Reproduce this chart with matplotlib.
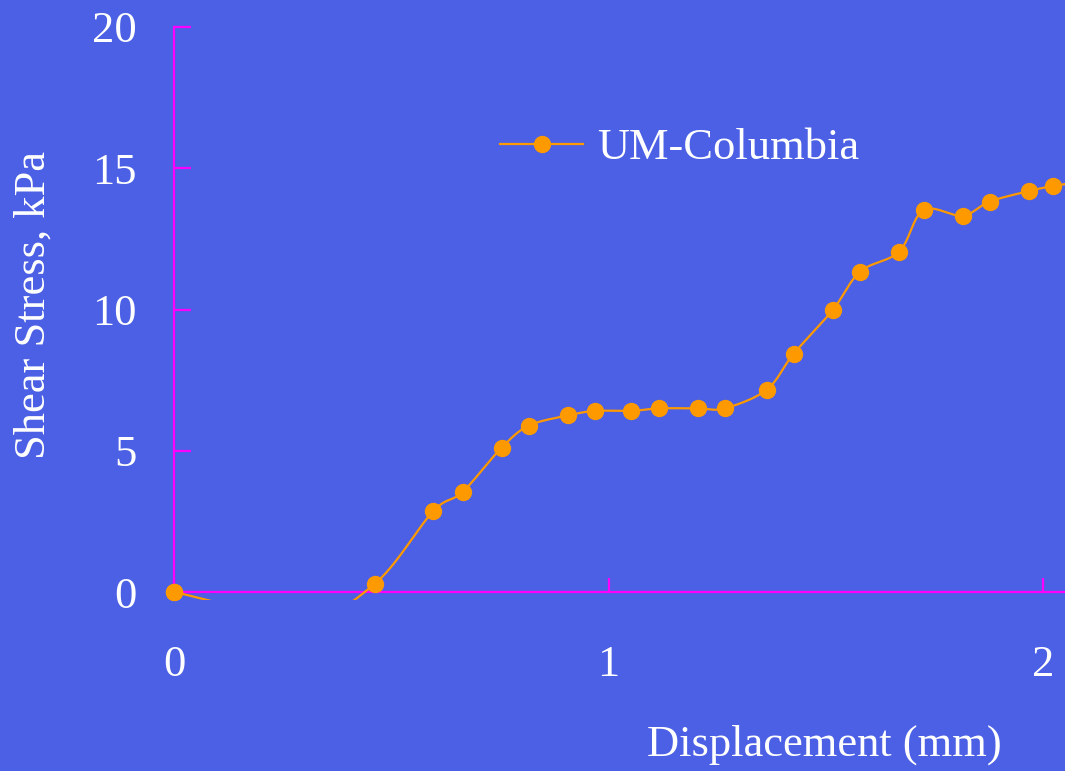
import numpy as np
import matplotlib
matplotlib.use("Agg")
import matplotlib.pyplot as plt
from matplotlib.lines import Line2D

# ---- data (one point below the visible range is estimated) ----
displacement = [0.0, 0.30, 0.4626, 0.596, 0.664, 0.754, 0.817, 0.907, 0.969,
                1.052, 1.116, 1.205, 1.267, 1.364, 1.426, 1.516, 1.579,
                1.669, 1.725, 1.815, 1.877, 1.967, 2.022, 2.08]
shear_stress = [0.0, -0.9, 0.30, 2.85, 3.54, 5.11, 5.89, 6.25, 6.41,
                6.41, 6.50, 6.50, 6.50, 7.16, 8.43, 9.98, 11.34,
                12.05, 13.52, 13.32, 13.82, 14.19, 14.37, 14.5]
series_name = "UM-Columbia"
x_ticks = [0, 1, 2]
y_ticks = [0, 5, 10, 15, 20]
x_label = "Displacement (mm)"
y_label = "Shear Stress, kPa"

BG = "#4B60E4"
AXC = "#FF00FF"
ORANGE = "#FF9900"
FONT = "Liberation Serif"
FS = 32
MS = 12.5

def catmull_rom(xs, ys, sx=434.5, sy=28.25, n=30):
    P = np.column_stack([np.asarray(xs) * sx, np.asarray(ys) * sy])
    out = [P[0]]
    for i in range(len(P) - 1):
        p0 = P[i - 1] if i > 0 else P[i]
        p1, p2 = P[i], P[i + 1]
        p3 = P[i + 2] if i + 2 < len(P) else P[i + 1]
        m1 = (p2 - p0) / 2.0
        m2 = (p3 - p1) / 2.0
        c1 = p1 + m1 / 3.0
        c2 = p2 - m2 / 3.0
        t = np.linspace(0, 1, n)[1:, None]
        seg = ((1 - t) ** 3) * p1 + 3 * ((1 - t) ** 2) * t * c1 + 3 * (1 - t) * t ** 2 * c2 + t ** 3 * p2
        out.extend(seg)
    out = np.array(out)
    return out[:, 0] / sx, out[:, 1] / sy

W, H = 1065, 771
fig = plt.figure(figsize=(W / 100, H / 100), dpi=100, facecolor=BG)

xlim = (-0.05, 2.05)
ylim = (-0.3, 20.5)
px_per_x = 434.5
px_per_y = 28.25
left_px = 174 + xlim[0] * px_per_x
right_px = 174 + xlim[1] * px_per_x
bottom_px = 592 - ylim[0] * px_per_y
top_px = 592 - ylim[1] * px_per_y
ax = fig.add_axes([left_px / W, 1 - bottom_px / H,
                   (right_px - left_px) / W, (bottom_px - top_px) / H])
ax.set_facecolor(BG)
ax.set_xlim(*xlim)
ax.set_ylim(*ylim)

for s in ["top", "right"]:
    ax.spines[s].set_visible(False)
ax.spines["left"].set_position(("data", 0))
ax.spines["bottom"].set_position(("data", 0))
ax.spines["left"].set_bounds(0, 20)
ax.spines["bottom"].set_bounds(0, xlim[1])
for s in ["left", "bottom"]:
    ax.spines[s].set_color(AXC)
    ax.spines[s].set_linewidth(1.6)
    ax.spines[s].set_zorder(1)

ax.set_xticks(x_ticks)
ax.set_xticklabels([str(v) for v in x_ticks])
ax.set_yticks(y_ticks)
ax.set_yticklabels([str(v) for v in y_ticks])
ax.tick_params(axis="y", direction="in", length=12, width=1.6, color=AXC,
               labelcolor="white", labelsize=FS, pad=27)
ax.tick_params(axis="x", direction="in", length=10, width=1.6, color=AXC,
               labelcolor="white", labelsize=FS, pad=38)
for lab in ax.get_xticklabels() + ax.get_yticklabels():
    lab.set_fontfamily(FONT)

sx, sy = catmull_rom(displacement, shear_stress)
ax.plot(sx, sy, color=ORANGE, lw=1.6, zorder=3)
ax.plot(displacement, shear_stress, linestyle="none", marker="o", ms=MS,
        color=ORANGE, markeredgewidth=0, zorder=4)
ax.plot([0], [0], linestyle="none", marker="o", ms=MS, color=ORANGE,
        markeredgewidth=0, zorder=4, clip_on=False)

handle = Line2D([], [], color=ORANGE, lw=1.6, marker="o", ms=MS, markeredgewidth=0)
aw = right_px - left_px
ah = bottom_px - top_px
leg = ax.legend([handle], [series_name], loc="center left",
                bbox_to_anchor=((500 - left_px) / aw, 1 - (148 - top_px) / ah),
                frameon=False, handlelength=1.87, handletextpad=0.32,
                prop={"family": FONT, "size": FS}, borderpad=0, borderaxespad=0)
for t in leg.get_texts():
    t.set_color("white")

fig.text(824 / W, 1 - 745 / H, x_label, color="white", fontsize=FS,
         family=FONT, ha="center", va="center")
fig.text(34 / W, 1 - 305 / H, y_label, color="white", fontsize=FS,
         family=FONT, ha="center", va="center", rotation=90)

fig.savefig("out.png", dpi=100, facecolor=BG)
